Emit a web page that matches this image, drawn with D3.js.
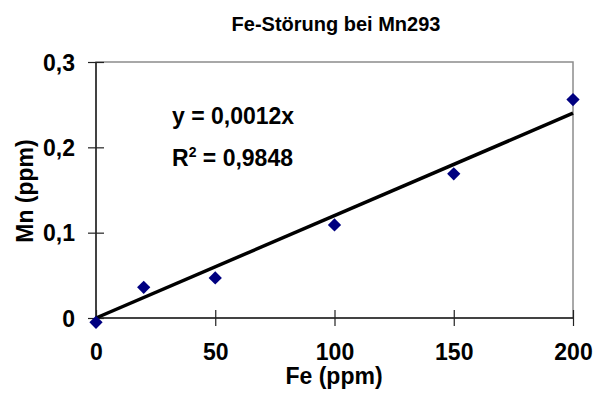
<!DOCTYPE html>
<html><head><meta charset="utf-8">
<script src="https://cdn.jsdelivr.net/npm/d3@7"></script>
<style>body{margin:0;background:#fff}svg{display:block}text{font-family:"Liberation Sans",Arial,sans-serif;font-weight:bold;fill:#000}</style>
</head><body><svg id="c" width="597" height="403"></svg>
<script>
const feValues = [0, 20, 50, 100, 150, 200];
const mnValues = [-0.005, 0.036, 0.047, 0.109, 0.169, 0.256];
const xTicks = [0, 50, 100, 150, 200];
const yTicks = [0, 0.1, 0.2, 0.3];
const yTickLabels = ["0", "0,1", "0,2", "0,3"];
const slope = 0.0012;
const title = "Fe-Störung bei Mn293";

const svg = d3.select("#c");
const L = 96, R = 573, T = 62, B = 318;
const x = d3.scaleLinear().domain([0, 200]).range([L, R]);
const y = d3.scaleLinear().domain([0, 0.3]).range([B, T]);

// plot area border (gray)
svg.append("rect").attr("x", L).attr("y", T).attr("width", R - L).attr("height", B - T)
  .attr("fill", "none").attr("stroke", "#8c8c8c").attr("stroke-width", 1.5);

// axes
const xAxis = svg.append("g").attr("transform", `translate(0,${B})`)
  .call(d3.axisBottom(x).tickValues(xTicks).tickSize(8).tickFormat(d3.format("d")));
const yAxis = svg.append("g").attr("transform", `translate(${L},0)`)
  .call(d3.axisLeft(y).tickValues(yTicks).tickSize(8).tickFormat((d, i) => yTickLabels[i]));
[xAxis, yAxis].forEach(g => {
  g.select(".domain").attr("stroke", "#222").attr("stroke-width", 1.5);
  g.selectAll(".tick line").attr("stroke", "#222").attr("stroke-width", 1.2);
  g.selectAll("text").attr("font-size", 23).attr("font-family", '"Liberation Sans",Arial,sans-serif').attr("font-weight", "bold").attr("fill", "#000");
});
xAxis.selectAll(".tick line").attr("y1", -8);
yAxis.selectAll(".tick line").attr("x1", 8).attr("x2", -8);
xAxis.selectAll("text").attr("y", 26).attr("dy", "0.71em");
yAxis.selectAll("text").attr("x", -21).attr("dy", "0.36em");
xAxis.select(".domain").attr("d", `M${L},0H${R}`);
yAxis.select(".domain").attr("d", `M0,${B}V${T}`);

// trendline
svg.append("line").attr("x1", x(0)).attr("y1", y(0)).attr("x2", x(200)).attr("y2", y(slope * 200))
  .attr("stroke", "#000").attr("stroke-width", 3.5);

// points
svg.selectAll("path.pt").data(feValues).join("path").attr("class", "pt")
  .attr("d", d3.symbol(d3.symbolSquare, 88)())
  .attr("transform", (d, i) => `translate(${x(d)},${y(mnValues[i])}) rotate(45)`)
  .attr("fill", "#000080");

// title & labels
svg.append("text").attr("x", 336).attr("y", 31).attr("text-anchor", "middle").attr("font-size", 20).text(title);
svg.append("text").attr("x", 334).attr("y", 384).attr("text-anchor", "middle").attr("font-size", 23).text("Fe (ppm)");
svg.append("text").attr("transform", "translate(33,191) rotate(-90)").attr("text-anchor", "middle").attr("font-size", 23).text("Mn (ppm)");

// equation
const eq = svg.append("text").attr("x", 172).attr("y", 124).attr("font-size", 23);
eq.text("y = 0,0012x");
const r2 = svg.append("text").attr("x", 172).attr("y", 166).attr("font-size", 23);
r2.append("tspan").text("R");
r2.append("tspan").attr("dy", -9).attr("font-size", 14).text("2");
r2.append("tspan").attr("dy", 9).text(" = 0,9848");
</script></body></html>
